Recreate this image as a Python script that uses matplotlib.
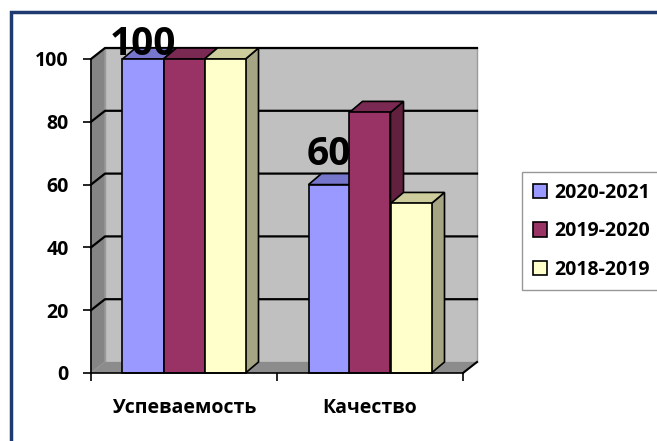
import matplotlib
matplotlib.use("Agg")
import matplotlib.pyplot as plt
from matplotlib.patches import Polygon, Rectangle, Patch

categories = ["Успеваемость", "Качество"]
series = ["2020-2021", "2019-2020", "2018-2019"]
values = {
    "2020-2021": [100, 60],
    "2019-2020": [100, 83],
    "2018-2019": [100, 54],
}
yticks = [0, 20, 40, 60, 80, 100]
data_labels = {"2020-2021": ["100", "60"]}

front_colors = {"2020-2021": "#9999FF", "2019-2020": "#993366", "2018-2019": "#FFFFCC"}
top_colors = {"2020-2021": "#7676CC", "2019-2020": "#7A2952", "2018-2019": "#CCCC9C"}
side_colors = {"2020-2021": "#6A6AB8", "2019-2020": "#62203F", "2018-2019": "#A5A584"}

plt.rcParams['font.family'] = ['Open Sans', 'DejaVu Sans']
plt.rcParams['font.weight'] = 'bold'

W, H = 657, 441
fig = plt.figure(figsize=(W / 100, H / 100), dpi=100)
# axes: x 0..2 -> px 91..463 ; y 0..100 -> px 373..59
x0p, x1p, y0p, y1p = 91, 463, 373, 59
ax = fig.add_axes([x0p / W, (H - y0p) / H, (x1p - x0p) / W, (y0p - y1p) / H])
ax.set_xlim(0, 2)
ax.set_ylim(0, 100)
ux = 2 / (x1p - x0p)        # data units per pixel in x
uy = 100 / (y0p - y1p)      # data units per pixel in y

# walls
wdx, wdy = 14 * ux, 11 * uy
back = Polygon([(wdx, wdy), (2 + wdx, wdy), (2 + wdx, 100 + wdy), (wdx, 100 + wdy)],
               closed=True, facecolor="#C0C0C0", edgecolor="#9a9a9a", lw=1, zorder=0, clip_on=False)
left = Polygon([(0, 0), (wdx, wdy), (wdx, 100 + wdy), (0, 100)],
               closed=True, facecolor="#858585", edgecolor="#9a9a9a", lw=1, zorder=0.5, clip_on=False)
floor = Polygon([(0, 0), (2, 0), (2 + wdx, wdy), (wdx, wdy)],
                closed=True, facecolor="#8C8C8C", edgecolor="none", lw=0, zorder=0.5, clip_on=False)
for p in (back, left, floor):
    ax.add_patch(p)
ax.plot([2, 2 + wdx], [0, wdy], color="black", lw=1.5, zorder=0.8, clip_on=False)
for v in yticks[1:]:
    ax.plot([0, wdx, 2 + wdx], [v, v + wdy, v + wdy], color="black", lw=1.6, zorder=0.7, clip_on=False)

# bars
bw = 41 * ux
bdx, bdy = 13 * ux, 11 * uy
label_offsets = [4, 20]  # pixels above bar front top
z = 2
for ci, cat in enumerate(categories):
    for si, s in enumerate(series):
        v = values[s][ci]
        xc = ci + 0.5 + (si - 1) * bw
        bars = ax.bar([xc], [v], width=bw, color=front_colors[s], edgecolor="black",
                      lw=1.2, zorder=z + 0.2, clip_on=False)
        r = bars[0]
        xa, xb = r.get_x(), r.get_x() + r.get_width()
        side = Polygon([(xb, 0), (xb + bdx, bdy), (xb + bdx, v + bdy), (xb, v)], closed=True,
                       facecolor=side_colors[s], edgecolor="black", lw=1.2, zorder=z, clip_on=False)
        top = Polygon([(xa, v), (xb, v), (xb + bdx, v + bdy), (xa + bdx, v + bdy)], closed=True,
                      facecolor=top_colors[s], edgecolor="black", lw=1.2, zorder=z + 0.1, clip_on=False)
        ax.add_patch(side)
        ax.add_patch(top)
        z += 1
        if s in data_labels:
            ax.text(xc, v + label_offsets[ci] * uy, data_labels[s][ci], ha="center", va="baseline",
                    fontsize=28, fontweight="bold", color="black", zorder=50)

# axes styling
for sp in ("top", "right"):
    ax.spines[sp].set_visible(False)
ax.spines["left"].set_linewidth(1.2)
ax.spines["bottom"].set_linewidth(1.2)
ax.spines["left"].set_zorder(40)
ax.spines["bottom"].set_zorder(40)
ax.set_yticks(yticks)
ax.set_yticklabels([str(t) for t in yticks], fontsize=14, fontweight="bold")
ax.tick_params(axis="y", direction="out", length=6, width=1.2, pad=10)
ax.set_xticks([0, 1, 2])
ax.set_xticklabels(["", "", ""])
ax.tick_params(axis="x", which="major", direction="out", length=6, width=1.2)
ax.set_xticks([0.5, 1.5], minor=True)
ax.set_xticklabels(categories, minor=True, fontsize=14, fontweight="bold")
ax.tick_params(axis="x", which="minor", length=0, pad=18)
ax.set_facecolor("none")

# legend
handles = [Patch(facecolor=front_colors[s], edgecolor="black", lw=1.2) for s in series]
leg = fig.legend(handles, series, loc="upper left", bbox_to_anchor=(522 / W, 1 - 172 / H),
                 bbox_transform=fig.transFigure, prop={"size": 14, "weight": "bold"},
                 handlelength=0.75, handleheight=0.75, handletextpad=0.35, labelspacing=0.95,
                 borderpad=0.55, frameon=True, fancybox=False, borderaxespad=0)
leg.get_frame().set_edgecolor("#7f7f7f")
leg.get_frame().set_linewidth(1.0)

# outer frame
fig.add_artist(Rectangle((10.5 / W, -0.1), 1.2, 1 - 12 / H + 0.1, transform=fig.transFigure,
                         fill=False, edgecolor="#1F3A6E", lw=2.5))

fig.savefig("out.png", dpi=100)
